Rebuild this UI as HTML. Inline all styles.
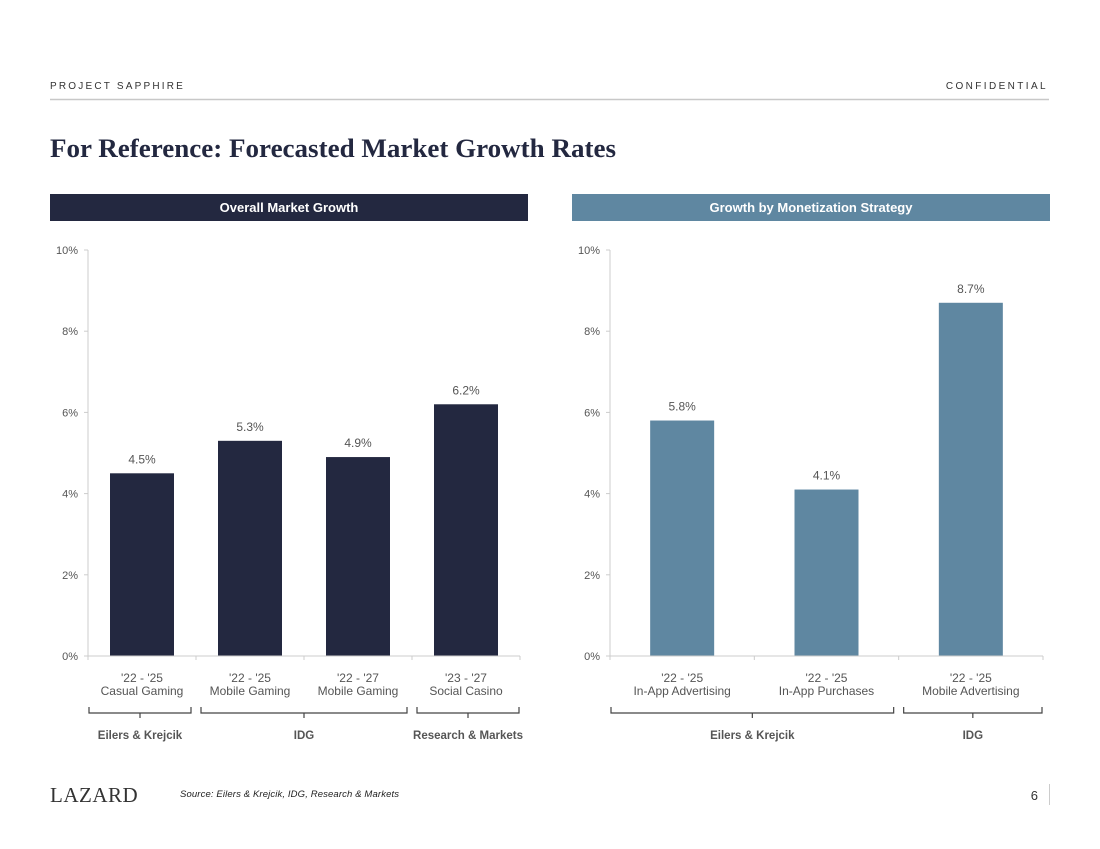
<!DOCTYPE html>
<html><head><meta charset="utf-8"><style>
body{margin:0;background:#fff;}
svg{display:block;font-family:"Liberation Sans",Arial,sans-serif;}
</style></head><body>
<svg width="1100" height="849" viewBox="0 0 1100 849" id="root">
<text x="50" y="89" font-size="10" letter-spacing="2.2" fill="#333">PROJECT SAPPHIRE</text>
<text x="1048" y="89" font-size="10" letter-spacing="2.4" fill="#333" text-anchor="end">CONFIDENTIAL</text>
<line x1="50" y1="99.5" x2="1049" y2="99.5" stroke="#c8c8c8" stroke-width="1.5"/>
<text x="50" y="157" font-family="Liberation Serif,serif" font-weight="bold" font-size="26" fill="#232840" textLength="566" lengthAdjust="spacingAndGlyphs">For Reference: Forecasted Market Growth Rates</text>
<rect x="50" y="194" width="478" height="27" fill="#232840"/>
<text x="289" y="212" font-size="13" font-weight="bold" fill="#fff" text-anchor="middle">Overall Market Growth</text>
<rect x="572" y="194" width="478" height="27" fill="#5f87a1"/>
<text x="811" y="212" font-size="13" font-weight="bold" fill="#fff" text-anchor="middle">Growth by Monetization Strategy</text>
<g id="charts"></g>
<text x="50" y="802" font-family="Liberation Serif,serif" font-size="21" fill="#333" letter-spacing="0.5">LAZARD</text>
<text x="180" y="797" font-size="9.5" font-style="italic" fill="#222" textLength="219">Source:  Eilers &amp; Krejcik, IDG, Research &amp; Markets</text>
<text x="1038" y="800" font-size="13" fill="#333" text-anchor="end">6</text>
<line x1="1049.5" y1="784" x2="1049.5" y2="805" stroke="#ccc"/>
</svg>
<script>
const leftCats1=["'22 - '25","'22 - '25","'22 - '27","'23 - '27"];
const leftCats2=["Casual Gaming","Mobile Gaming","Mobile Gaming","Social Casino"];
const leftValues=[4.5,5.3,4.9,6.2];
const leftGroups=[["Eilers & Krejcik",0,0],["IDG",1,2],["Research & Markets",3,3]];
const rightCats1=["'22 - '25","'22 - '25","'22 - '25"];
const rightCats2=["In-App Advertising","In-App Purchases","Mobile Advertising"];
const rightValues=[5.8,4.1,8.7];
const rightGroups=[["Eilers & Krejcik",0,1],["IDG",2,2]];
const yTicks=[0,2,4,6,8,10];
const NS="http://www.w3.org/2000/svg";
const g=document.getElementById('charts');
function mk(t,a,txt){const e=document.createElementNS(NS,t);for(const k in a)e.setAttribute(k,a[k]);if(txt!=null)e.textContent=txt;g.appendChild(e);return e;}
function chart(key,x0,x1,cats1,cats2,vals,groups,color){
  const y0=656,yTop=250,ymax=10;
  const y=v=>y0-(v/ymax)*(y0-yTop);
  const n=vals.length,w=(x1-x0)/n;
  const cx=i=>x0+w*(i+0.5);
  let e=mk('line',{x1:x0,y1:yTop,x2:x0,y2:y0,stroke:'#ccc'});
  
  yTicks.forEach(t=>{
    let l=mk('line',{x1:x0-4,y1:y(t),x2:x0,y2:y(t),stroke:'#ccc'});
    
    let tx=mk('text',{x:x0-10,y:y(t)+4,'font-size':11,fill:'#555','text-anchor':'end'},t+'%');
    
  });
  vals.forEach((v,i)=>{
    let r=mk('rect',{x:cx(i)-32,y:y(v),width:64,height:y0-y(v),fill:color});
    
    let t=mk('text',{x:cx(i),y:y(v)-10,'font-size':12,fill:'#555','text-anchor':'middle'},v.toFixed(1)+'%');
    
    let a=mk('text',{x:cx(i),y:682,'font-size':12,fill:'#555','text-anchor':'middle'},cats1[i]);
    
    let b=mk('text',{x:cx(i),y:695,'font-size':12,fill:'#555','text-anchor':'middle'},cats2[i]);
    
  });
  for(let i=0;i<=n;i++){let l=mk('line',{x1:x0+w*i,y1:y0,x2:x0+w*i,y2:y0+4,stroke:'#ccc'});
    }
  let ax=mk('line',{x1:x0,y1:y0,x2:x1,y2:y0,stroke:'#ccc'});
  
  groups.forEach(([name,a,b])=>{
    const l=x0+w*a+(a?5:1),r=x0+w*(b+1)-(b==n-1?1:5),m=(l+r)/2;
    let p=mk('path',{d:`M${l} 707 V713 H${r} V707 M${m} 713 V718`,stroke:'#444','stroke-width':1.2,fill:'none'});
    
    let t=mk('text',{x:m,y:739,'font-size':11.5,'font-weight':'bold',fill:'#555','text-anchor':'middle'},name);
    
  });
}
chart('left',88,520,leftCats1,leftCats2,leftValues,leftGroups,'#232840');
chart('right',610,1043,rightCats1,rightCats2,rightValues,rightGroups,'#5f87a1');
</script>
</body></html>
